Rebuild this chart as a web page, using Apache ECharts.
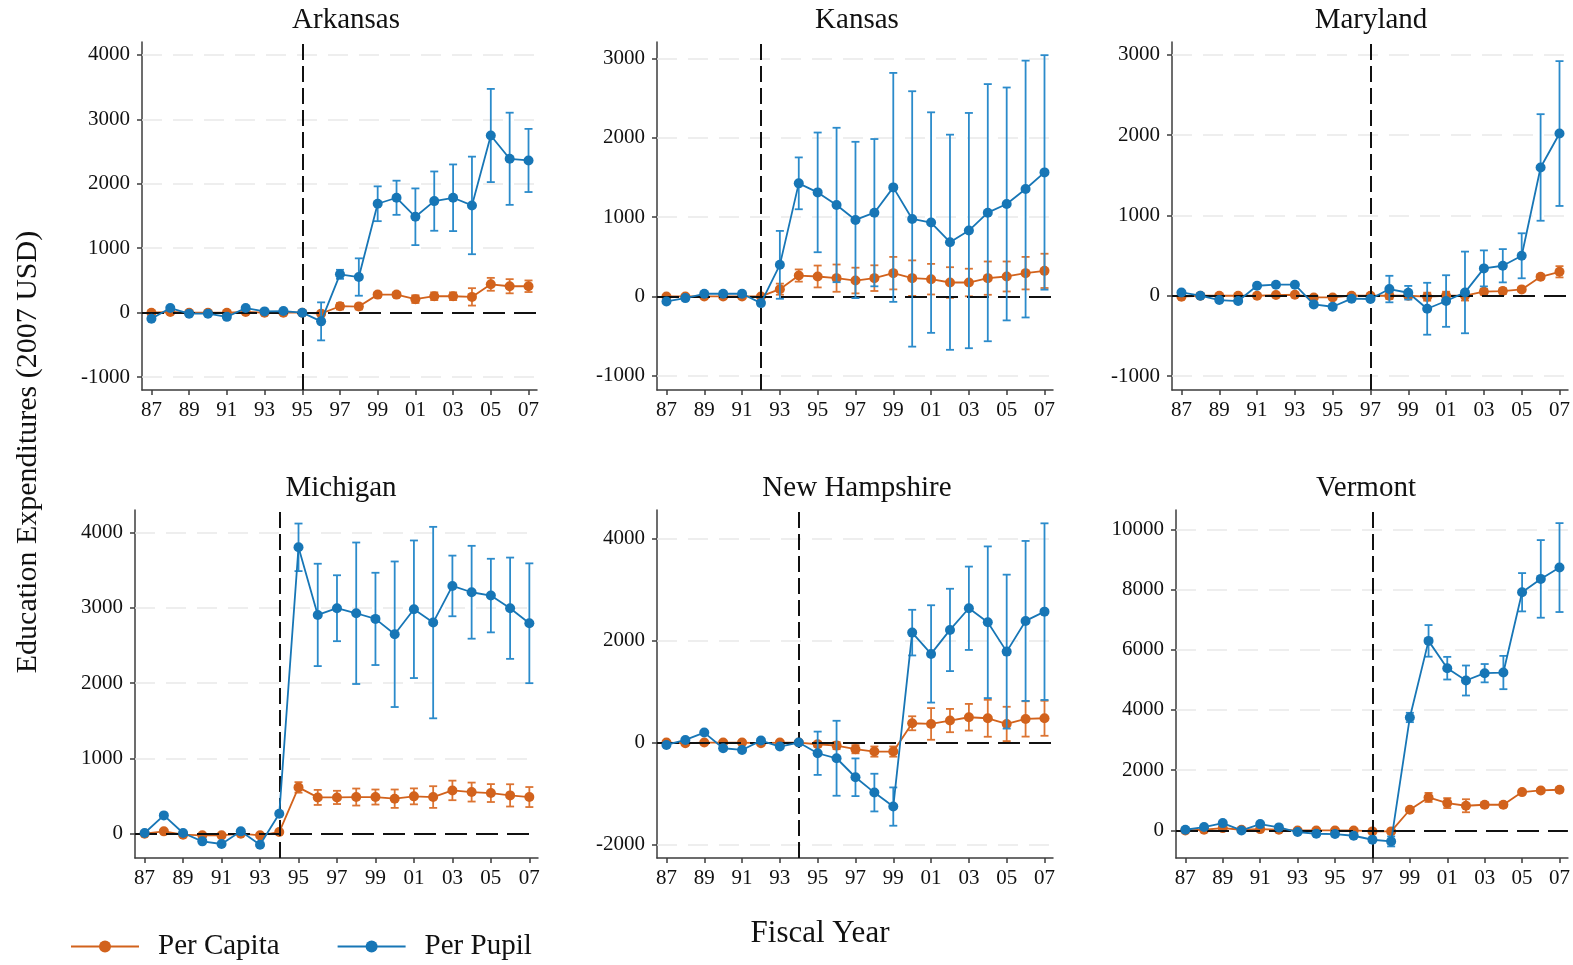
<!DOCTYPE html>
<html>
<head>
<meta charset="utf-8">
<title>Education Expenditures by State</title>
<script src="https://cdn.jsdelivr.net/npm/echarts@6/dist/echarts.min.js"></script>
<style>
  html, body { margin: 0; padding: 0; background: #fff; }
  #chart { width: 1573px; height: 965px; }
</style>
</head>
<body>
<div id="chart"></div>
<script>
// Fiscal years 1987-2007
const years = [1987,1988,1989,1990,1991,1992,1993,1994,1995,1996,1997,1998,1999,2000,2001,2002,2003,2004,2005,2006,2007];
const xTickYears = [1987,1989,1991,1993,1995,1997,1999,2001,2003,2005,2007];

const stateNames = ['Arkansas', 'Kansas', 'Maryland', 'Michigan', 'New Hampshire', 'Vermont'];
const reformYears = [1995, 1992, 1997, 1994, 1994, 1997];

// Estimates (2007 USD) and 95% CI half-widths, one array per state and measure
const arkansasPerCapita   = [0,10,0,0,0,10,0,0,0,-15,100,95,280,280,210,255,255,245,440,410,410];
const arkansasPerCapitaCI = [0,0,0,0,0,0,0,0,0,0,50,45,35,35,60,60,60,135,100,110,90];
const arkansasPerPupil    = [-95,72,-15,-15,-65,72,20,25,0,-135,595,553,1690,1783,1488,1731,1783,1664,2749,2388,2362];
const arkansasPerPupilCI  = [0,0,0,0,0,0,0,0,0,295,70,290,270,265,440,460,517,757,723,715,490];

const kansasPerCapita   = [0,0,0,0,0,0,92,264,252,231,201,231,294,231,218,176,176,231,252,294,323];
const kansasPerCapitaCI = [0,0,0,0,0,0,70,77,138,172,162,162,205,224,193,193,174,210,189,205,216];
const kansasPerPupil    = [-63,-21,34,34,34,-84,399,1427,1313,1154,965,1057,1376,978,932,684,831,1057,1167,1355,1565];
const kansasPerPupilCI  = [0,0,0,0,0,0,428,327,755,974,986,929,1444,1611,1391,1357,1484,1622,1469,1620,1479];

const marylandPerCapita   = [-12,0,0,0,0,8,12,-21,-21,0,0,0,0,-12,0,0,50,58,79,236,298];
const marylandPerCapitaCI = [0,0,0,0,0,0,0,0,0,0,0,40,30,50,50,60,35,35,25,25,70];
const marylandPerPupil    = [41,0,-54,-66,124,137,137,-108,-137,-37,-41,83,37,-162,-66,41,340,373,497,1596,2018];
const marylandPerPupilCI  = [0,0,0,0,0,0,0,0,0,0,0,165,85,323,321,508,224,207,280,663,901];

const michiganPerCapita   = [0,31,-13,-22,-22,0,-22,22,615,482,482,487,487,465,496,487,575,553,540,509,487];
const michiganPerCapitaCI = [0,0,0,0,0,0,0,0,70,100,88,113,100,122,106,144,130,126,119,148,133];
const michiganPerPupil    = [9,243,9,-102,-137,31,-146,265,3805,2907,2996,2929,2854,2650,2982,2805,3292,3208,3164,2996,2796];
const michiganPerPupilCI  = [0,0,0,0,0,0,0,0,316,680,438,940,613,967,914,1272,403,617,489,673,796];

const newHampshirePerCapita   = [0,-13,0,0,0,-13,0,0,-33,-59,-130,-176,-176,378,365,431,496,476,365,463,476];
const newHampshirePerCapitaCI = [0,0,0,0,0,0,0,0,50,70,80,100,100,137,310,228,261,362,336,346,343];
const newHampshirePerPupil    = [-46,52,196,-111,-144,39,-78,0,-209,-307,-679,-979,-1253,2153,1736,2206,2630,2356,1781,2382,2564];
const newHampshirePerPupilCI  = [0,0,0,0,0,0,0,0,424,734,369,369,375,447,953,806,816,1485,1507,1566,1729];

const vermontPerCapita   = [0,22,77,22,44,22,0,0,0,0,-33,-33,686,1095,907,819,852,852,1272,1327,1350];
const vermontPerCapitaCI = [0,0,0,0,0,0,0,0,0,0,0,0,60,150,166,216,80,80,60,60,70];
const vermontPerPupil    = [22,111,243,0,210,100,-55,-111,-122,-177,-310,-365,3750,6294,5387,4978,5221,5243,7909,8352,8728];
const vermontPerPupilCI  = [0,0,0,0,0,0,0,0,0,0,0,166,155,525,376,498,304,553,636,1289,1476];

// Y tick labels per state
const arkansasTicks     = [-1000, 0, 1000, 2000, 3000, 4000];
const kansasTicks       = [-1000, 0, 1000, 2000, 3000];
const marylandTicks     = [-1000, 0, 1000, 2000, 3000];
const michiganTicks     = [0, 1000, 2000, 3000, 4000];
const newHampshireTicks = [-2000, 0, 2000, 4000];
const vermontTicks      = [0, 2000, 4000, 6000, 8000, 10000];

const perCapitaByState   = [arkansasPerCapita, kansasPerCapita, marylandPerCapita, michiganPerCapita, newHampshirePerCapita, vermontPerCapita];
const perCapitaCIByState = [arkansasPerCapitaCI, kansasPerCapitaCI, marylandPerCapitaCI, michiganPerCapitaCI, newHampshirePerCapitaCI, vermontPerCapitaCI];
const perPupilByState    = [arkansasPerPupil, kansasPerPupil, marylandPerPupil, michiganPerPupil, newHampshirePerPupil, vermontPerPupil];
const perPupilCIByState  = [arkansasPerPupilCI, kansasPerPupilCI, marylandPerPupilCI, michiganPerPupilCI, newHampshirePerPupilCI, vermontPerPupilCI];
const ticksByState       = [arkansasTicks, kansasTicks, marylandTicks, michiganTicks, newHampshireTicks, vermontTicks];

// Layout: panel plot areas and y-axis extents
const panels = [
  { left: 142,  top: 42,  width: 395, height: 348, yMin: -1200, yMax: 4200,  titleX: 341 },
  { left: 657,  top: 42,  width: 396, height: 348, yMin: -1180, yMax: 3210,  titleX: 852 },
  { left: 1172, top: 42,  width: 397, height: 348, yMin: -1173, yMax: 3157,  titleX: 1366 },
  { left: 135,  top: 510, width: 403, height: 348, yMin: -323,  yMax: 4301,  titleX: 336 },
  { left: 657,  top: 510, width: 396, height: 348, yMin: -2260, yMax: 4554,  titleX: 852 },
  { left: 1176, top: 510, width: 393, height: 348, yMin: -916,  yMax: 10640, titleX: 1361 }
];

const ORANGE = '#d2621c';
const ORANGE_BAR = '#dc7432';
const BLUE = '#1776b6';
const BLUE_BAR = '#2b8bcb';
const FONT = '"Liberation Serif", "DejaVu Serif", serif';
const AXIS_COLOR = '#3c3c3c';

function errorBarRenderer(color) {
  return function (params, api) {
    const lo = api.coord([api.value(0), api.value(1)]);
    const hi = api.coord([api.value(0), api.value(2)]);
    const cap = 4;
    const style = { stroke: color, lineWidth: 1.8 };
    return {
      type: 'group',
      children: [
        { type: 'line', shape: { x1: lo[0], y1: lo[1], x2: hi[0], y2: hi[1] }, style },
        { type: 'line', shape: { x1: lo[0] - cap, y1: lo[1], x2: lo[0] + cap, y2: lo[1] }, style },
        { type: 'line', shape: { x1: hi[0] - cap, y1: hi[1], x2: hi[0] + cap, y2: hi[1] }, style }
      ]
    };
  };
}

function errorData(values, ci) {
  const out = [];
  for (let i = 0; i < years.length; i++) {
    if (ci[i] > 0) out.push([years[i], values[i] - ci[i], values[i] + ci[i]]);
  }
  return out;
}

function lineData(values) {
  return years.map((y, i) => [y, values[i]]);
}

const grids = [], xAxes = [], yAxes = [], series = [], titles = [];

panels.forEach((p, k) => {
  grids.push({ left: p.left, top: p.top, width: p.width, height: p.height, containLabel: false });

  xAxes.push({
    type: 'value', gridIndex: k, min: 1986.5, max: 2007.45,
    axisLine: { show: true, onZero: false, lineStyle: { color: AXIS_COLOR, width: 1.5 } },
    axisTick: { show: true, length: 5, customValues: xTickYears, lineStyle: { color: AXIS_COLOR, width: 1.5 } },
    axisLabel: {
      customValues: xTickYears, margin: 10, color: '#111', fontFamily: FONT, fontSize: 21,
      formatter: v => String(Math.round(v) % 100).padStart(2, '0')
    },
    splitLine: { show: false }
  });

  yAxes.push({
    type: 'value', gridIndex: k, min: p.yMin, max: p.yMax,
    axisLine: { show: true, onZero: false, lineStyle: { color: AXIS_COLOR, width: 1.5 } },
    axisTick: { show: true, length: 5, customValues: ticksByState[k], lineStyle: { color: AXIS_COLOR, width: 1.5 } },
    axisLabel: {
      customValues: ticksByState[k], margin: 12, color: '#111', fontFamily: FONT, fontSize: 21,
      formatter: v => String(Math.round(v))
    },
    splitLine: { show: false }
  });

  // Background: dashed grid lines, zero line and reform-year line
  series.push({
    type: 'line', xAxisIndex: k, yAxisIndex: k, data: [], z: 1, silent: true,
    markLine: {
      silent: true, symbol: ['none', 'none'], animation: false,
      label: { show: false },
      data: ticksByState[k].map(v => ({ yAxis: v, lineStyle: { color: '#e9e9e9', width: 1.6, type: [20, 11] } }))
        .concat([
          { yAxis: 0, lineStyle: { color: '#111', width: 2, type: [22, 9] } },
          { xAxis: reformYears[k], lineStyle: { color: '#111', width: 2, type: [16, 6] } }
        ])
    }
  });

  series.push({
    type: 'custom', name: 'Per Capita CI', xAxisIndex: k, yAxisIndex: k, z: 3,
    renderItem: errorBarRenderer(ORANGE_BAR),
    data: errorData(perCapitaByState[k], perCapitaCIByState[k]),
    encode: { x: 0, y: [1, 2] }
  });
  series.push({
    type: 'line', name: 'Per Capita', xAxisIndex: k, yAxisIndex: k, z: 4,
    data: lineData(perCapitaByState[k]),
    symbol: 'circle', symbolSize: 10,
    itemStyle: { color: ORANGE }, lineStyle: { color: ORANGE, width: 1.8 }
  });
  series.push({
    type: 'custom', name: 'Per Pupil CI', xAxisIndex: k, yAxisIndex: k, z: 5,
    renderItem: errorBarRenderer(BLUE_BAR),
    data: errorData(perPupilByState[k], perPupilCIByState[k]),
    encode: { x: 0, y: [1, 2] }
  });
  series.push({
    type: 'line', name: 'Per Pupil', xAxisIndex: k, yAxisIndex: k, z: 6,
    data: lineData(perPupilByState[k]),
    symbol: 'circle', symbolSize: 10,
    itemStyle: { color: BLUE }, lineStyle: { color: BLUE, width: 1.8 }
  });

  titles.push({
    text: stateNames[k], left: p.titleX, top: k < 3 ? 1 : 469, textAlign: 'center',
    textStyle: { fontFamily: FONT, fontSize: 29, fontWeight: 'normal', color: '#111' }
  });
});

titles.push({
  text: 'Fiscal Year', left: 815, top: 913, textAlign: 'center',
  textStyle: { fontFamily: FONT, fontSize: 31, fontWeight: 'normal', color: '#111' }
});

const chart = echarts.init(document.getElementById('chart'), null, { renderer: 'canvas' });
chart.setOption({
  animation: false,
  backgroundColor: '#fff',
  title: titles,
  grid: grids,
  xAxis: xAxes,
  yAxis: yAxes,
  legend: {
    data: ['Per Capita', 'Per Pupil'],
    left: 65, top: 927, itemWidth: 68, itemHeight: 15, itemGap: 57,
    selectedMode: false,
    textStyle: { fontFamily: FONT, fontSize: 29, color: '#111', padding: [0, 0, 0, 14] }
  },
  graphic: [{
    type: 'text', x: 28, y: 452, rotation: Math.PI / 2,
    style: {
      text: 'Education Expenditures (2007 USD)', fontFamily: FONT, fontSize: 30,
      fill: '#111', align: 'center', verticalAlign: 'middle'
    }
  }],
  series: series
});
</script>
</body>
</html>
